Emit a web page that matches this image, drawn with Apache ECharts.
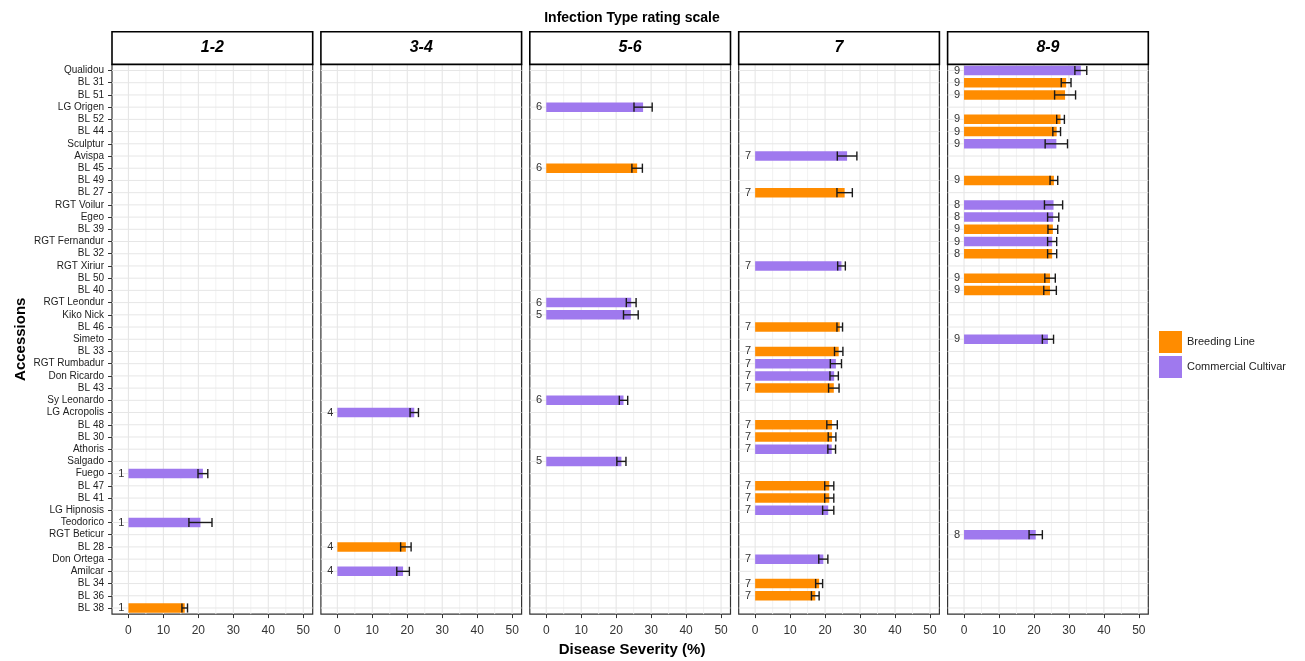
<!DOCTYPE html>
<html><head><meta charset="utf-8">
<script src="https://cdn.jsdelivr.net/npm/echarts@6/dist/echarts.min.js"></script>
<style>html,body{margin:0;padding:0;background:#fff}#c{width:1305px;height:661px}</style>
</head><body><div id="c"></div>
<script>
// ---------------- data ----------------
const panels = ['1-2', '3-4', '5-6', '7', '8-9'];
const accessions = ['Qualidou','BL 31','BL 51','LG Origen','BL 52','BL 44','Sculptur','Avispa','BL 45','BL 49','BL 27','RGT Voilur','Egeo','BL 39','RGT Fernandur','BL 32','RGT Xiriur','BL 50','BL 40','RGT Leondur','Kiko Nick','BL 46','Simeto','BL 33','RGT Rumbadur','Don Ricardo','BL 43','Sy Leonardo','LG Acropolis','BL 48','BL 30','Athoris','Salgado','Fuego','BL 47','BL 41','LG Hipnosis','Teodorico','RGT Beticur','BL 28','Don Ortega','Amilcar','BL 34','BL 36','BL 38'];
const panelOf = ['8-9','8-9','8-9','5-6','8-9','8-9','8-9','7','5-6','8-9','7','8-9','8-9','8-9','8-9','8-9','7','8-9','8-9','5-6','5-6','7','8-9','7','7','7','7','5-6','3-4','7','7','7','5-6','1-2','7','7','7','1-2','8-9','3-4','7','3-4','7','7','1-2'];
const rating = [9,9,9,6,9,9,9,7,6,9,7,8,8,9,9,8,7,9,9,6,5,7,9,7,7,7,7,6,4,7,7,7,5,1,7,7,7,1,8,4,7,4,7,7,1];
const severity = [33.4,29.2,28.9,27.7,27.6,26.5,26.4,26.3,26.0,25.7,25.6,25.6,25.5,25.4,25.2,25.2,24.7,24.6,24.6,24.3,24.2,24.2,24.0,23.9,23.1,22.6,22.5,22.1,22.0,22.0,22.0,21.9,21.5,21.3,21.2,21.2,20.9,20.6,20.5,19.6,19.5,18.8,18.3,17.2,16.1];
const stdError = [1.7,1.4,3.0,2.6,1.1,1.1,3.2,2.8,1.5,1.1,2.2,2.6,1.6,1.4,1.3,1.3,1.1,1.5,1.8,1.4,2.1,0.8,1.6,1.2,1.6,1.2,1.5,1.2,1.2,1.5,1.1,1.1,1.3,1.4,1.3,1.3,1.6,3.3,1.9,1.5,1.3,1.8,1.0,1.1,0.8];
const accessionType = accessions.map(n => n.indexOf('BL ') === 0 ? 'Breeding Line' : 'Commercial Cultivar');
const typeNames = ['Breeding Line', 'Commercial Cultivar'];
const xTicks = [0, 10, 20, 30, 40, 50];
const xMinor = [5, 15, 25, 35, 45];

// ---------------- style / layout ----------------
const typeColors = {'Breeding Line': '#FF8C00', 'Commercial Cultivar': '#9F79EE'};
const FONT = '"Liberation Sans", Arial, Helvetica, sans-serif';
const gridLeft0 = 112, gridStep = 208.9, gridW = 200.7, gridTop = 64.4, gridH = 549.7;
const stripTop = 31.7;

const grids = [], xAxes = [], yAxes = [], series = [], graphics = [];
panels.forEach((p, k) => {
  const left = gridLeft0 + k * gridStep;
  grids.push({left: left, top: gridTop, width: gridW, height: gridH, show: true,
    borderColor: '#333', borderWidth: 1.2, backgroundColor: '#fff', containLabel: false});
  xAxes.push({type: 'value', gridIndex: k, min: -4.7, max: 52.7,
    axisLine: {show: false, onZero: false}, splitLine: {show: false},
    axisTick: {show: true, length: 4, lineStyle: {color: '#333'}, customValues: xTicks},
    axisLabel: {customValues: xTicks, fontSize: 12, color: '#333', margin: 11, fontFamily: FONT}});
  yAxes.push({type: 'category', gridIndex: k, data: accessions, inverse: true,
    axisLine: {show: false, onZero: false}, splitLine: {show: false},
    axisTick: {show: k === 0, length: 4, interval: 0, alignWithLabel: true, lineStyle: {color: '#333'}},
    axisLabel: {show: k === 0, fontSize: 10, color: '#222', margin: 8, fontFamily: FONT, interval: 0},
    name: k === 0 ? 'Accessions' : '', nameLocation: 'middle', nameGap: 84, nameRotate: 90,
    nameTextStyle: {fontSize: 15, fontWeight: 'bold', color: '#000', fontFamily: FONT}});

  // vertical grid lines
  series.push({type: 'custom', xAxisIndex: k, yAxisIndex: k, z: 1, silent: true,
    data: xTicks.map(v => [v, 0, 1]).concat(xMinor.map(v => [v, 0, 0])),
    encode: {x: 0, y: 1},
    renderItem: (params, api) => {
      const cs = params.coordSys;
      const x = api.coord([api.value(0), 0])[0];
      const major = api.value(2) === 1;
      return {type: 'line', shape: {x1: x, y1: cs.y, x2: x, y2: cs.y + cs.height},
        style: {stroke: major ? '#e6e6e6' : '#f1f1f1', lineWidth: major ? 1.1 : 0.9}};
    }});
  // horizontal grid lines
  series.push({type: 'custom', xAxisIndex: k, yAxisIndex: k, z: 1, silent: true,
    data: accessions.map((a, i) => [0, i]),
    encode: {x: 0, y: 1},
    renderItem: (params, api) => {
      const cs = params.coordSys;
      const y = api.coord([0, api.value(1)])[1];
      return {type: 'line', shape: {x1: cs.x, y1: y, x2: cs.x + cs.width, y2: y},
        style: {stroke: '#e6e6e6', lineWidth: 1}};
    }});
  // bars
  typeNames.forEach(t => {
    series.push({type: 'bar', name: t, xAxisIndex: k, yAxisIndex: k, z: 2,
      barWidth: 9.5, barGap: '-100%',
      itemStyle: {color: typeColors[t]},
      data: accessions.map((a, i) => (panelOf[i] === p && accessionType[i] === t) ? severity[i] : '-'),
      label: {show: true, position: 'left', distance: 4, fontSize: 11, color: '#333', fontFamily: FONT,
        formatter: prm => String(rating[prm.dataIndex])},
      emphasis: {disabled: true}, animation: false});
  });
  // error bars
  const eb = [];
  accessions.forEach((a, i) => { if (panelOf[i] === p) eb.push([severity[i], i, stdError[i]]); });
  series.push({type: 'custom', xAxisIndex: k, yAxisIndex: k, z: 3, silent: true,
    data: eb, encode: {x: 0, y: 1},
    renderItem: (params, api) => {
      const v = api.value(0), idx = api.value(1), e = api.value(2);
      const lo = api.coord([v - e, idx]), hi = api.coord([v + e, idx]);
      const h = 4.6, st = {stroke: '#1a1a1a', lineWidth: 1.4};
      return {type: 'group', children: [
        {type: 'line', shape: {x1: lo[0], y1: lo[1], x2: hi[0], y2: hi[1]}, style: st},
        {type: 'line', shape: {x1: lo[0], y1: lo[1] - h, x2: lo[0], y2: lo[1] + h}, style: st},
        {type: 'line', shape: {x1: hi[0], y1: hi[1] - h, x2: hi[0], y2: hi[1] + h}, style: st}
      ]};
    }});

  // strip
  graphics.push({type: 'rect', z: 100, shape: {x: left, y: stripTop, width: gridW, height: gridTop - stripTop},
    style: {fill: '#fff', stroke: '#000', lineWidth: 1.6}});
  graphics.push({type: 'text', z: 101, x: left + gridW / 2, y: (stripTop + gridTop) / 2,
    style: {text: p, fill: '#000', font: 'italic bold 16px ' + FONT, textAlign: 'center', textVerticalAlign: 'middle', align: 'center', verticalAlign: 'middle'}});
});

graphics.push({type: 'text', z: 101, x: 632, y: 18,
  style: {text: 'Infection Type rating scale', fill: '#000', font: 'bold 14px ' + FONT, textAlign: 'center', textVerticalAlign: 'middle', align: 'center', verticalAlign: 'middle'}});
graphics.push({type: 'text', z: 101, x: 632, y: 650,
  style: {text: 'Disease Severity (%)', fill: '#000', font: 'bold 15px ' + FONT, textAlign: 'center', textVerticalAlign: 'middle', align: 'center', verticalAlign: 'middle'}});

const chart = echarts.init(document.getElementById('c'), null, {renderer: 'canvas'});
chart.setOption({
  animation: false,
  backgroundColor: '#fff',
  textStyle: {fontFamily: FONT},
  grid: grids, xAxis: xAxes, yAxis: yAxes, series: series,
  legend: {data: typeNames, orient: 'vertical', left: 1159, top: 331, padding: 0, itemWidth: 23, itemHeight: 22, itemGap: 3,
    icon: 'rect', selectedMode: false, textStyle: {fontSize: 11, color: '#222', fontFamily: FONT}},
  graphic: {elements: graphics}
});
</script></body></html>
